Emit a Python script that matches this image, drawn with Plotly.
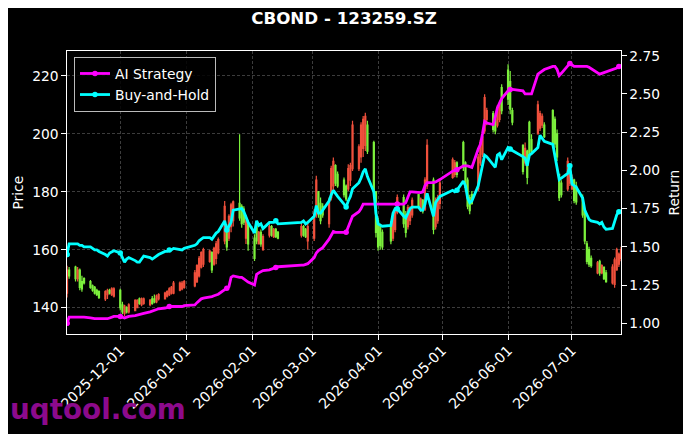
import pandas as pd
import plotly.graph_objects as go

# ---------------- data ----------------
start_date = "2025-11-06"
end_date = "2026-07-24"
closed_days = ["2026-01-01", "2026-01-02", "2026-02-16", "2026-02-17", "2026-02-18",
               "2026-02-19", "2026-02-20", "2026-02-23", "2026-04-06", "2026-05-01",
               "2026-05-04", "2026-05-05", "2026-06-04", "2026-06-05", "2026-06-19"]

# AI Strategy cumulative return (right axis)
ai_return = [
    # Nov
    1.00, 1.04, 1.04, 1.04, 1.04, 1.04, 1.04, 1.035, 1.03, 1.03, 1.03, 1.03, 1.03, 1.03, 1.035, 1.04, 1.045,
    # Dec
    1.045, 1.04, 1.035, 1.04, 1.045, 1.05, 1.055, 1.06, 1.06, 1.065, 1.075, 1.08, 1.085, 1.09, 1.095,
    1.10, 1.105, 1.11, 1.11, 1.11, 1.11, 1.11, 1.115,
    # Jan
    1.12, 1.135, 1.15, 1.16, 1.165, 1.17, 1.175, 1.18, 1.185, 1.19, 1.22, 1.23, 1.24, 1.30, 1.31,
    1.30, 1.30, 1.29, 1.28, 1.27,
    # Feb
    1.25, 1.32, 1.33, 1.34, 1.345, 1.35, 1.355, 1.36, 1.365, 1.37, 1.38, 1.38, 1.385, 1.39,
    # Mar
    1.43, 1.46, 1.475, 1.485, 1.495, 1.55, 1.58, 1.60, 1.595, 1.595, 1.595, 1.595, 1.63, 1.66, 1.70,
    1.73, 1.75, 1.78, 1.78, 1.78, 1.78, 1.78,
    # Apr
    1.78, 1.78, 1.78, 1.78, 1.78, 1.78, 1.78, 1.78, 1.79, 1.82, 1.86, 1.86, 1.855, 1.855, 1.86,
    1.90, 1.92, 1.92, 1.925, 1.93, 1.94,
    # May
    1.995, 2.00, 2.005, 2.03, 2.03, 2.03, 2.025, 2.02, 2.14, 2.17, 2.24, 2.32, 2.31, 2.30, 2.35,
    2.41, 2.44, 2.47,
    # Jun
    2.52, 2.53, 2.53, 2.52, 2.50, 2.50, 2.50, 2.50, 2.63, 2.64, 2.65, 2.66, 2.68, 2.68, 2.66,
    2.62, 2.635, 2.68, 2.70,
    # Jul
    2.69, 2.68, 2.68, 2.68, 2.68, 2.68, 2.675, 2.665, 2.635, 2.63, 2.635, 2.64, 2.645, 2.655, 2.665,
    2.67, 2.68, 2.685,
]

# Buy-and-Hold cumulative return (right axis)
bh_return = [
    # Nov
    1.45, 1.52, 1.52, 1.52, 1.51, 1.51, 1.50, 1.50, 1.49, 1.48, 1.48, 1.47, 1.45, 1.44, 1.46, 1.47, 1.475,
    # Dec
    1.46, 1.43, 1.40, 1.42, 1.43, 1.41, 1.40, 1.40, 1.42, 1.44, 1.43, 1.42, 1.43, 1.44, 1.45,
    1.47, 1.47, 1.48, 1.48, 1.49, 1.48, 1.48, 1.49,
    # Jan
    1.51, 1.52, 1.54, 1.55, 1.56, 1.56, 1.55, 1.57, 1.59, 1.60, 1.67, 1.61, 1.64, 1.66, 1.74,
    1.75, 1.75, 1.73, 1.70, 1.66,
    # Feb
    1.59, 1.67, 1.64, 1.65, 1.62, 1.66, 1.66, 1.66, 1.67, 1.65, 1.66, 1.67, 1.65, 1.66,
    # Mar
    1.70, 1.77, 1.72, 1.72, 1.74, 1.80, 1.84, 1.87, 1.85, 1.83, 1.78, 1.76, 1.80, 1.83, 1.88,
    1.92, 1.95, 1.99, 2.01, 1.96, 1.86, 1.72,
    # Apr
    1.65, 1.64, 1.635, 1.64, 1.72, 1.75, 1.75, 1.70, 1.69, 1.72, 1.75, 1.76, 1.76, 1.74, 1.74,
    1.78, 1.85, 1.70, 1.79, 1.81, 1.83,
    # May
    1.87, 1.86, 1.87, 1.93, 1.90, 1.82, 1.79, 1.80, 1.90, 1.97, 2.04, 2.10, 2.09, 2.04, 2.02,
    2.10, 2.11, 2.07,
    # Jun
    2.15, 2.14, 2.13, 2.09, 2.08, 2.03, 2.10, 2.11, 2.15, 2.23, 2.21, 2.19, 2.17, 2.10, 2.02,
    1.94, 1.95, 1.98, 2.03,
    # Jul
    1.91, 1.90, 1.89, 1.82, 1.74, 1.71, 1.68, 1.67, 1.66, 1.65, 1.66, 1.63, 1.615, 1.62, 1.66,
    1.71, 1.73, 1.735,
]

# Daily candles (left axis, price)
open_p = [
    145, 153, 154, 150, 153, 149, 150, 149, 147.5, 147, 146, 145.5, 143, 144.5, 146, 144.5, 144,
    146, 141, 138, 140, 138.5, 139, 140, 143, 141, 141.5, 141, 143, 143, 142, 143,
    143, 144, 144.5, 145, 145, 146, 146.5, 147,
    147.5, 149, 151, 154, 155, 156, 159, 155, 157, 159, 163, 168, 164, 168, 170,
    176, 175, 174, 164, 169,
    164, 168, 162, 166, 160, 165, 168, 164.5, 167, 166, 165, 168, 167, 163,
    164, 172, 180, 176, 175, 169, 178, 182, 189, 186, 184, 182, 181, 184, 188,
    188, 192, 195, 196, 203, 197, 180,
    170, 168, 166, 168, 164, 167, 173, 178, 172, 168, 170, 172, 179, 174, 177,
    174, 182, 184, 168, 170, 176,
    185, 186, 190, 197, 190, 184, 178, 179, 181, 190, 193, 201, 205, 207, 205,
    203, 205, 216,
    222, 218, 208, 196, 190, 194, 204, 198, 200, 202, 203, 203, 208, 205, 200,
    186, 183, 181, 183,
    181, 184, 182, 178, 173, 162, 160, 157, 152, 156, 152, 154, 152, 148.5, 148,
    153, 155, 157,
]
high_p = [
    154.5, 154, 154.5, 154, 153.5, 151, 150.5, 149.5, 148, 147.5, 146.5, 146, 146, 146.5, 146.5, 147, 147,
    146.5, 142, 141, 140.5, 141.5, 142.9, 142.9, 143.5, 143.5, 143.5, 143, 144, 144.5, 144.5, 145,
    145.5, 146, 147, 147.5, 149.2, 149, 149.2, 149.5,
    153, 155, 157.8, 159.5, 160.7, 160, 159.5, 161, 163, 164.2, 176.8, 168.8, 172.2, 176.2, 177,
    199.9, 175.7, 175, 172, 170,
    165.3, 168.8, 166.5, 167, 165.3, 168.8, 168.5, 167.5, 167.5, 166.5, 169.3, 168.5, 167.5, 170,
    174, 185.5, 180.3, 178, 176, 178, 189, 191.8, 189.5, 187, 184.9, 182.5, 189.5, 190, 204.5,
    196.4, 204, 206.2, 207.3, 204.5, 197.6, 180.3,
    171, 169, 167, 169.9, 172, 174, 179.1, 179.1, 173.4, 175.5, 175, 178, 179.1, 178, 177.5,
    185, 198.1, 184.9, 178, 179, 184.5,
    191.8, 191, 190.5, 197.6, 190.5, 184.9, 179, 180.3, 193, 198, 200, 213.7, 209, 207.9, 206,
    210, 211.4, 217.1,
    224, 221.7, 209, 196.4, 197, 194.5, 204.5, 199.9, 211.4, 208, 207, 204, 208.5, 206, 201.5,
    186, 184, 191.8, 188,
    186, 184.5, 183.5, 179.1, 173.4, 163, 161, 158, 156.1, 156.5, 155, 154, 153, 155, 157.3,
    160.7, 159, 161,
]
low_p = [
    143.5, 150, 149, 149, 146, 145.5, 148, 146.5, 145.5, 144.5, 144, 143, 142.3, 143, 144.5, 144, 143.5,
    139, 137.7, 137, 138, 138, 138.9, 140, 141, 140.5, 141, 140.5, 141, 141.5, 141.5, 142.5,
    142.9, 143.5, 144, 144.5, 144.6, 145.7, 146, 146.5,
    147, 148.5, 150.4, 153.5, 154, 155.5, 152, 154.5, 155, 158.4, 161.9, 159.6, 163, 166, 168,
    170, 167.6, 168.5, 162, 159.6,
    156.1, 161.9, 161.9, 161, 159.6, 164.2, 164.5, 164, 164, 163.6, 164.2, 164.5, 164, 160.1,
    163, 171, 171, 168.8, 171, 167.6, 177, 180.3, 182, 181.4, 178, 176.8, 180.3, 182, 187.2,
    187.2, 190, 192, 194.1, 193, 178, 164.2,
    159.6, 160, 160, 161.9, 163, 166, 172.2, 167.6, 164.2, 167, 168.5, 171, 174.5, 173, 172.5,
    173.4, 181, 165.3, 167, 169, 174,
    184.5, 185, 184.9, 187.2, 180.3, 174, 172.2, 175.5, 180.3, 189, 192, 200, 203, 200.5, 199.9,
    202.2, 204, 206.8,
    210, 206.8, 203, 186, 189, 182.6, 191.8, 193, 199.9, 201, 202, 198.6, 195.2, 195.2, 190.6,
    176.8, 178, 180.3, 182,
    180.5, 176, 175.5, 171, 161.9, 155, 154, 153.8, 151.5, 151, 151.5, 149.5, 148.6, 148, 146.9,
    152.7, 154, 156,
]
close_p = [
    153, 151, 150, 153, 147, 146.5, 148.5, 147, 146, 145, 144.5, 143.5, 145.5, 146, 145, 146.5, 146.5,
    140, 138.5, 140.5, 138.5, 141, 142.5, 142.5, 141.5, 143, 143, 142.5, 141.5, 142, 144, 144.5,
    145, 145.5, 146.5, 147, 148.5, 148.5, 148.5, 149,
    152, 154.5, 157, 159, 160, 159.5, 153, 160.5, 162, 163.5, 175, 161, 171.5, 175.5, 176.5,
    171, 169, 169.5, 170, 162,
    157, 163, 166, 162, 164.5, 168, 165, 167, 164.5, 164, 168, 165, 164.5, 168,
    172, 184, 172.5, 170, 172, 177, 188, 190.5, 183, 182, 179, 177.5, 188, 189, 203,
    195.5, 203, 205, 206, 194, 180, 166,
    161, 161.5, 161, 163, 171, 173, 178, 169, 166, 174.5, 174, 177, 175, 177.5, 173.5,
    184, 196, 167, 177, 178, 183,
    191, 190, 186, 188.5, 181.5, 175, 173.5, 176, 192, 197, 199, 212.5, 208, 201.5, 201,
    209, 210.5, 208,
    212, 208.5, 204, 187, 195, 185, 193, 194, 210, 207, 206, 199, 197, 196.5, 192,
    178, 179, 190.5, 187,
    185, 177, 176.5, 172, 163, 156, 155, 154.5, 155.5, 152, 154.5, 150, 149, 154, 156.5,
    160, 158.5, 160,
]

month_ticks = ["2025-12-01", "2026-01-01", "2026-02-01", "2026-03-01", "2026-04-01",
               "2026-05-01", "2026-06-01", "2026-07-01"]
price_ticks = [140, 160, 180, 200, 220]
return_ticks = [1.00, 1.25, 1.50, 1.75, 2.00, 2.25, 2.50, 2.75]

# ---------------- build figure ----------------
all_days = pd.bdate_range(start_date, end_date)
dates = [d for d in all_days if d.strftime("%Y-%m-%d") not in closed_days]

MAGENTA = "#ff00ff"
CYAN = "#00ffff"
RED = "#f0503c"
GREEN = "#7cf03c"
FONT = "DejaVu Sans"
MARK_EVERY = 17

# the page body adds an 8px offset; compensate so the picture lands on the window grid
OFF = 8
W, H = 691 - OFF, 434 - OFF
ML, MT = 67 - OFF, 51 - OFF
PLOT_W, PLOT_H = 554, 283
MR, MB = W - ML - PLOT_W, H - MT - PLOT_H

fig = go.Figure()

fig.add_trace(go.Candlestick(
    x=dates, open=open_p, high=high_p, low=low_p, close=close_p,
    increasing=dict(line=dict(color=RED, width=1.2), fillcolor=RED),
    decreasing=dict(line=dict(color=GREEN, width=1.2), fillcolor=GREEN),
    whiskerwidth=0, showlegend=False, yaxis="y", hoverinfo="skip",
))

series = [("AI Strategy", ai_return, MAGENTA), ("Buy-and-Hold", bh_return, CYAN)]
for name, vals, col in series:
    fig.add_trace(go.Scatter(x=dates, y=vals, mode="lines", yaxis="y2",
                             line=dict(color=col, width=2.8), showlegend=False))
    fig.add_trace(go.Scatter(x=dates[::MARK_EVERY], y=vals[::MARK_EVERY], mode="markers",
                             yaxis="y2", marker=dict(color=col, size=5.5),
                             showlegend=False))
for name, vals, col in series:
    fig.add_trace(go.Scatter(x=[dates[0]], y=[vals[0]], mode="lines+markers", yaxis="y2",
                             name=name, line=dict(color=col, width=2.8),
                             marker=dict(color=col, size=5.5)))

grid = dict(showgrid=True, gridcolor="rgba(110,110,110,0.55)", gridwidth=0.8,
            griddash="3px,2px")

fig.update_layout(
    width=W, height=H, autosize=False,
    margin=dict(l=ML, r=MR, t=MT, b=MB, pad=0, autoexpand=False),
    paper_bgcolor="black", plot_bgcolor="black",
    font=dict(family=FONT, color="white", size=13.5),
    title=dict(text="<b>CBOND - 123259.SZ</b>", x=0.5, xref="paper", xanchor="center",
               y=1 - (18 - OFF) / H, yref="container", yanchor="middle",
               font=dict(family=FONT, size=16.7, color="white")),
    xaxis=dict(type="date", range=[start_date, end_date], tickvals=month_ticks,
               ticktext=month_ticks, tickangle=-45, tickfont=dict(size=14.2, color="white"),
               ticklabelstandoff=-3,
               showline=True, linecolor="white", linewidth=1.2, mirror=True,
               ticks="outside", tickcolor="white", ticklen=4.5, zeroline=False,
               automargin=False, rangeslider=dict(visible=False), **grid),
    yaxis=dict(range=[130.9, 228.6], tickvals=price_ticks, showline=True,
               linecolor="white", linewidth=1.2, ticks="outside", tickcolor="white",
               ticklen=4.5, zeroline=False, automargin=False, tickfont=dict(size=13.8),
               **grid),
    yaxis2=dict(range=[0.930, 2.781], tickvals=return_ticks, tickformat=".2f",
                overlaying="y", side="right", showgrid=False, showline=True,
                linecolor="white", linewidth=1.2, ticks="outside", tickcolor="white",
                ticklen=4.5, zeroline=False, automargin=False, tickfont=dict(size=13.8)),
    legend=dict(x=0.0126, y=0.979, xanchor="left", yanchor="top",
                bgcolor="rgba(0,0,0,0.85)", bordercolor="#bbbbbb", borderwidth=1,
                font=dict(family=FONT, size=13.9, color="white"), tracegroupgap=0),
    showlegend=True,
)

# window-pixel positions converted to plot-area (paper) fractions
def px_x(x):
    return (x - 67) / PLOT_W

def px_y(y):
    return (334 - y) / PLOT_H

fig.add_annotation(text="Price", textangle=-90, xref="paper", yref="paper",
                   x=px_x(17), y=0.5, xanchor="center", yanchor="middle", showarrow=False,
                   font=dict(family=FONT, size=13.8, color="white"))
fig.add_annotation(text="Return", textangle=-90, xref="paper", yref="paper",
                   x=px_x(673), y=0.5, xanchor="center", yanchor="middle", showarrow=False,
                   font=dict(family=FONT, size=13.8, color="white"))
fig.add_annotation(text="<b>uqtool.com</b>", xref="paper", yref="paper",
                   x=px_x(9), y=px_y(409), xanchor="left",
                   yanchor="middle", showarrow=False, borderpad=0,
                   font=dict(family=FONT, size=27.8, color="#8c0a8c"))

fig.write_html("out.html")
